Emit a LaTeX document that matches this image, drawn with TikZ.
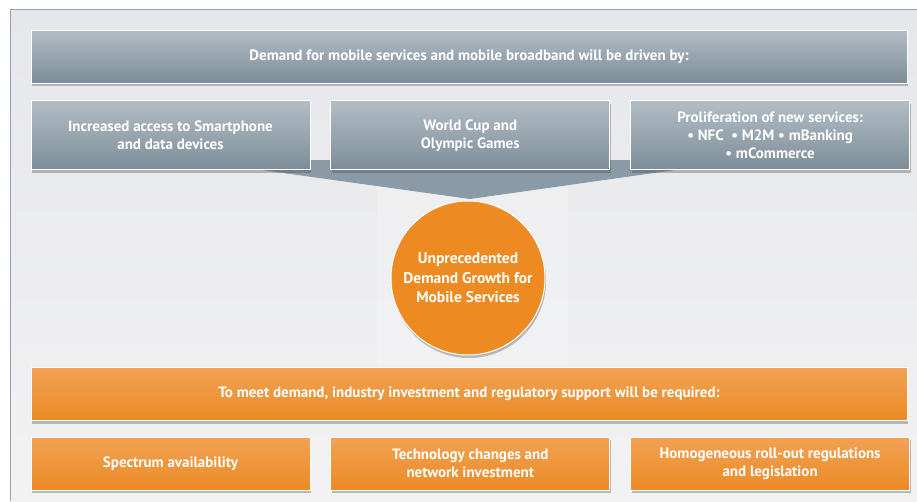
\documentclass[tikz,border=0pt]{standalone}
\usepackage{fontspec}
\setmainfont{PT Sans}
\usepackage{xcolor}
\usetikzlibrary{positioning,shadows}

\definecolor{slatetop}{HTML}{B3BDC5}
\definecolor{slatebot}{HTML}{7C8D99}
\definecolor{slatemid}{HTML}{8A9AA6}
\definecolor{ambertop}{HTML}{F1A255}
\definecolor{amberbot}{HTML}{EC8A24}
\definecolor{amberhub}{HTML}{ED8A21}
\definecolor{paneltop}{HTML}{E6E7EA}
\definecolor{panelbot}{HTML}{F2F2F3}
\definecolor{panelline}{HTML}{95A4B0}

\begin{document}
\begin{tikzpicture}[
    x=1pt, y=-1pt,
    font=\bfseries\fontsize{15}{18}\selectfont,
    shade/.style={drop shadow={shadow xshift=1pt, shadow yshift=-3pt, opacity=0.35, fill=black!70}},
    greybar/.style={rectangle, draw=white, line width=0.8pt, top color=slatetop, bottom color=slatebot, text=white, align=center, minimum width=876pt, minimum height=53pt, inner sep=0pt, shade},
    greybox/.style={greybar, minimum width=279pt, minimum height=69pt},
    amberbar/.style={greybar, top color=ambertop, bottom color=amberbot},
    amberbox/.style={amberbar, minimum width=279pt, minimum height=53pt},
    hub/.style={circle, draw=white, line width=1pt, fill=amberhub, text=white, align=center, minimum size=154pt, inner sep=0pt, font=\bfseries\fontsize{15.5}{19.5}\selectfont, shade}
]
    \useasboundingbox (0,0) rectangle (917,501);

    % Panel
    \fill[top color=paneltop, bottom color=panelbot] (10,9) rectangle (917,501);
    \draw[panelline, line width=0.8pt] (10,501) -- (10,9) -- (917,9);
    \fill[white, opacity=0.2] (377,180) rectangle (568,365);

    % Funnel
    \fill[slatemid] (190,160) -- (470,199) -- (746,160) -- cycle;

    % Drivers
    \node [greybar] (demand) at (469,56.5) {Demand for mobile services and mobile broadband will be driven by:};
    \node [greybox, below right=17pt and 0pt of demand.south west] (access) {Increased access to Smartphone\\and data devices};
    \node [greybox, right=20pt of access] (events) {World Cup and\\Olympic Games};
    \node [greybox, right=20pt of events] (services) {Proliferation of new services:\\• NFC \ • M2M • mBanking\\• mCommerce};

    % Centre
    \node [hub] (growth) at (468,278) {Unprecedented\\Demand Growth for\\Mobile Services};

    % Requirements
    \node [amberbar] (require) at (469,394) {To meet demand, industry investment and regulatory support will be required:};
    \node [amberbox, below right=16pt and 0pt of require.south west] (spectrum) {Spectrum availability};
    \node [amberbox, right=20pt of spectrum] (network) {Technology changes and\\network investment};
    \node [amberbox, right=20pt of network] (rollout) {Homogeneous roll-out regulations\\and legislation};
\end{tikzpicture}
\end{document}
